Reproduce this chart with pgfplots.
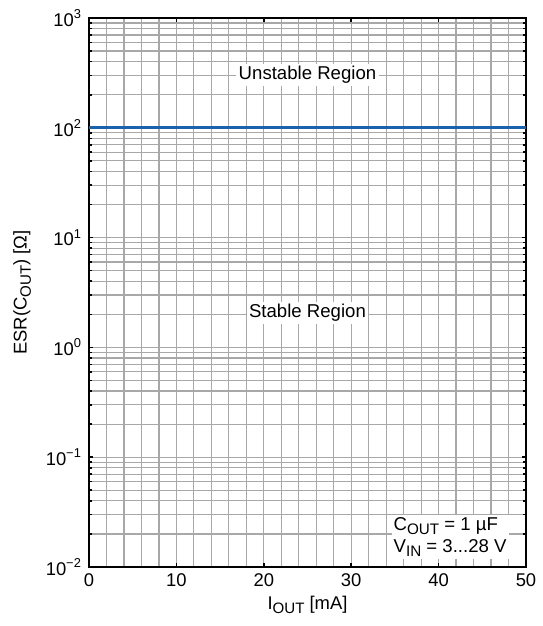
\documentclass[border=0pt]{standalone}
\usepackage{pgfplots}
\pgfplotsset{compat=1.18}
\usepackage{fontspec}
\setmainfont{Liberation Sans}
\definecolor{esrblue}{HTML}{1A62AD}
\definecolor{gridgray}{HTML}{A8A8A8}
% subscripts as in the datasheet: large and set low
\newcommand\sub[1]{\raisebox{-0.42ex}{\scalebox{0.82}{#1}}}

\begin{document}
\begin{tikzpicture}
\begin{axis}[
    at={(0,0)}, anchor=south west,
    scale only axis, width=218.5pt, height=274.5pt,
    ymode=log,
    xmin=0, xmax=50, ymin=1e-2, ymax=1e3,
    xtick={0,10,20,30,40,50},
    minor xtick={2,4,6,8,12,14,16,18,22,24,26,28,32,34,36,38,42,44,46,48},
    ytick={1e-2,1e-1,1,10,100,1000},
    yticklabels={10\textsuperscript{−2},10\textsuperscript{−1},10\textsuperscript{0},
                 10\textsuperscript{1},10\textsuperscript{2},10\textsuperscript{3}},
    /pgf/number format/assume math mode=true,
    grid=both,
    major grid style={gridgray, line width=0.6pt},
    minor grid style={gridgray, line width=0.6pt},
    axis line style={black, line width=1.2pt},
    tick align=inside,
    major tick length=2.2pt, minor tick length=1.3pt,
    tick style={black, line width=0.8pt},
    minor x tick style={draw=none},
    tick label style={font=\fontsize{9.2}{10}\selectfont},
    label style={font=\fontsize{9.2}{10}\selectfont},
    xlabel={I\sub{OUT} [mA]},
    ylabel={ESR(C\sub{OUT}) [Ω]},
    xlabel style={at={(axis description cs:0.5,-0.069)}, anchor=center},
    ylabel style={at={(axis description cs:-0.153,0.5)}, anchor=center},
    clip=false,
  ]
  \addplot[esrblue, line width=1.4pt] coordinates {(0,100) (50,100)};

  \node[fill=white, inner sep=1.2pt, font=\fontsize{9.3}{10}\selectfont]
    at (axis cs:25,302) {Unstable Region};
  \node[fill=white, inner sep=1.2pt, font=\fontsize{9.3}{10}\selectfont]
    at (axis cs:25,2.05) {Stable Region};
  \node[fill=white, inner sep=1pt, anchor=south east, align=left,
        font=\fontsize{9.3}{11}\selectfont]
    at ([xshift=-8.5pt, yshift=4pt]rel axis cs:1,0)
    {C\sub{OUT} = 1 µF\\V\sub{IN} = 3...28 V};
\end{axis}
\pgfresetboundingbox
\path (-44.5pt,-29.5pt) rectangle (226.5pt,283.5pt);
\end{tikzpicture}
\end{document}
